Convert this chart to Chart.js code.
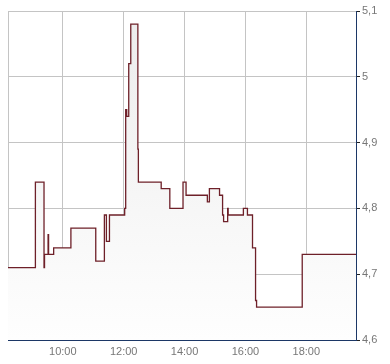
<!DOCTYPE html>
<html>
<head>
<meta charset="utf-8">
<script src="https://cdn.jsdelivr.net/npm/chart.js"></script>
<style>
  html, body { margin: 0; padding: 0; background: #fff; }
  #wrap { width: 390px; height: 364px; }
</style>
</head>
<body>
<div id="wrap"><canvas id="priceChart"></canvas></div>
<script>
"use strict"

// Trade times (change points) and the price from that moment on
const tradeTimes = [
    "08:12", "09:06", "09:23", "09:24", "09:31", "09:32", "09:42", "10:16",
    "11:05", "11:22", "11:26", "11:32", "12:02", "12:04", "12:06", "12:10",
    "12:14", "12:28", "12:29", "13:14", "13:31", "13:57", "14:03", "14:45",
    "14:49", "15:09", "15:15", "15:17", "15:25", "15:26", "15:56", "16:04",
    "16:14", "16:20", "16:22", "17:52", "19:38"
];
const tradePrices = [
    4.71, 4.84, 4.71, 4.73, 4.76, 4.73, 4.74, 4.77,
    4.72, 4.79, 4.75, 4.79, 4.80, 4.95, 4.94, 5.02,
    5.08, 4.89, 4.84, 4.83, 4.80, 4.84, 4.82, 4.81,
    4.83, 4.82, 4.79, 4.78, 4.80, 4.79, 4.80, 4.79,
    4.74, 4.66, 4.65, 4.73, 4.73
];
const hourTicks = [10, 12, 14, 16, 18];
const priceTicks = [4.6, 4.7, 4.8, 4.9, 5.0, 5.1];

function toHours(hhmm) {
    let parts = hhmm.split(":");
    return Number(parts[0]) + Number(parts[1]) / 60;
}

const points = tradeTimes.map((t, i) => ({ x: toHours(t), y: tradePrices[i] }));

const gridGray = "#c4c4c4";
const axisBlue = "#1c3766";
const labelGray = "#777777";

(function CreatePriceChart() {
    const ctx = document.getElementById("priceChart");

    new Chart(ctx, {
        type: "line",
        data: {
            datasets: [{
                data: points,
                stepped: "before",
                borderColor: "#6e2029",
                borderWidth: 1.3,
                pointRadius: 0,
                fill: "start",
                backgroundColor(context) {
                    const area = context.chart.chartArea;
                    if (!area) return "#f4f4f4";
                    const g = context.chart.ctx.createLinearGradient(0, area.top, 0, area.bottom);
                    g.addColorStop(0, "#ececec");
                    g.addColorStop(1, "#fefefe");
                    return g;
                }
            }]
        },
        options: {
            responsive: true,
            maintainAspectRatio: false,
            animation: false,
            layout: { padding: { left: 8, top: 11, right: 0, bottom: 0 } },
            plugins: { legend: { display: false }, tooltip: { enabled: false } },
            scales: {
                x: {
                    type: "linear",
                    min: toHours(tradeTimes[0]),
                    max: toHours(tradeTimes[tradeTimes.length - 1]),
                    afterBuildTicks(scale) {
                        scale.ticks = [scale.min].concat(hourTicks).map(v => ({ value: v }));
                    },
                    afterFit(scale) { scale.height = 24; },
                    grid: { color: gridGray, lineWidth: 1, drawTicks: false },
                    border: { color: axisBlue, width: 1 },
                    ticks: {
                        autoSkip: false,
                        maxRotation: 0,
                        padding: 5,
                        color: labelGray,
                        font: { family: "Liberation Sans", size: 11 },
                        callback(v) {
                            if (!hourTicks.includes(v)) return "";
                            return String(v).padStart(2, "0") + ":00";
                        }
                    }
                },
                y: {
                    position: "right",
                    min: 4.6,
                    max: 5.1,
                    afterBuildTicks(scale) {
                        scale.ticks = priceTicks.map(v => ({ value: v }));
                    },
                    afterFit(scale) { scale.width = 34; },
                    grid: { color: gridGray, lineWidth: 1, tickColor: "#222", tickLength: 4 },
                    border: { color: axisBlue, width: 1 },
                    ticks: {
                        padding: 2,
                        color: labelGray,
                        font: { family: "Liberation Sans", size: 11 },
                        callback(v) {
                            return (Math.round(v * 10) / 10).toString().replace(".", ",");
                        }
                    }
                }
            }
        }
    });
}())
</script>
</body>
</html>
